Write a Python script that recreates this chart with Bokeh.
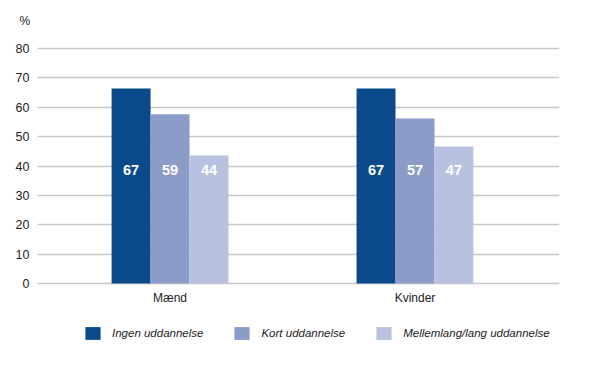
from bokeh.plotting import figure
from bokeh.models import Range1d, FixedTicker, Legend, LegendItem, ColumnDataSource, Title
from bokeh.core.properties import value
from bokeh.embed import file_html
from bokeh.resources import INLINE

categories = ["Mænd", "Kvinder"]
series = ["Ingen uddannelse", "Kort uddannelse", "Mellemlang/lang uddannelse"]
colors = ["#0a4a8a", "#8a9cc7", "#b8c2e0"]
values_ingen = [66.4, 66.4]
values_kort = [57.6, 56.2]
values_mellem = [43.6, 46.6]
labels_ingen = ["67", "67"]
labels_kort = ["59", "57"]
labels_mellem = ["44", "47"]
y_ticks = [0, 10, 20, 30, 40, 50, 60, 70, 80]

FONT = "Liberation Sans"

p = figure(width=590, height=369, output_backend="svg", toolbar_location=None,
           x_range=Range1d(-0.541, 1.590), y_range=Range1d(-27.57, 86.13),
           min_border_left=37, min_border_right=31, min_border_top=30, min_border_bottom=5)
p.outline_line_color = None
p.background_fill_color = "white"
p.border_fill_color = "white"

xs = list(range(len(categories)))
bw = 0.159
offsets = [-bw, 0.0, bw]
all_vals = [values_ingen, values_kort, values_mellem]
all_labels = [labels_ingen, labels_kort, labels_mellem]

items = []
for i, (vals, labs) in enumerate(zip(all_vals, all_labels)):
    src = ColumnDataSource(dict(x=[x + offsets[i] for x in xs], top=vals, lab=labs,
                                ly=[38.5] * len(vals)))
    r = p.vbar(x="x", top="top", width=bw, bottom=0, source=src,
               fill_color=colors[i], line_color=None)
    items.append(LegendItem(label=series[i], renderers=[r]))
    p.text(x="x", y="ly", text="lab", source=src, text_color="white",
           text_font_size="14.5px", text_font_style="bold", text_align="center",
           text_baseline="middle", text_font=value(FONT))

# category labels (x axis)
cat_src = ColumnDataSource(dict(x=xs, y=[-5.1] * len(xs), t=categories))
p.text(x="x", y="y", text="t", source=cat_src, text_color="#222222",
       text_font_size="12px", text_align="center", text_baseline="middle",
       text_font=value(FONT))

p.xgrid.grid_line_color = None
p.ygrid.ticker = FixedTicker(ticks=y_ticks)
p.ygrid.grid_line_color = "#c8c8c8"
p.ygrid.grid_line_width = 1.6
p.ygrid.level = "underlay"

p.yaxis.ticker = FixedTicker(ticks=y_ticks)
p.yaxis.axis_line_color = None
p.yaxis.major_tick_line_color = None
p.yaxis.minor_tick_line_color = None
p.yaxis.major_label_standoff = 2
p.yaxis.major_label_text_font = FONT
p.yaxis.major_label_text_font_size = "12.5px"
p.yaxis.major_label_text_color = "#222222"

p.xaxis.visible = False

p.add_layout(Title(text="%", align="left", offset=-18, standoff=6,
                   text_font=FONT, text_font_size="12px", text_font_style="normal",
                   text_color="#222222"), "above")

legend = Legend(items=items, orientation="horizontal", location=(46, 23),
                glyph_width=19, glyph_height=16, label_standoff=10, spacing=29,
                padding=0, margin=0, border_line_color=None, background_fill_alpha=0,
                label_text_font=FONT, label_text_font_size="11.5px",
                label_text_font_style="italic", label_text_color="#222222",
                label_height=16)
p.add_layout(legend, "center")

open("out.html", "w").write(file_html(p, INLINE))
